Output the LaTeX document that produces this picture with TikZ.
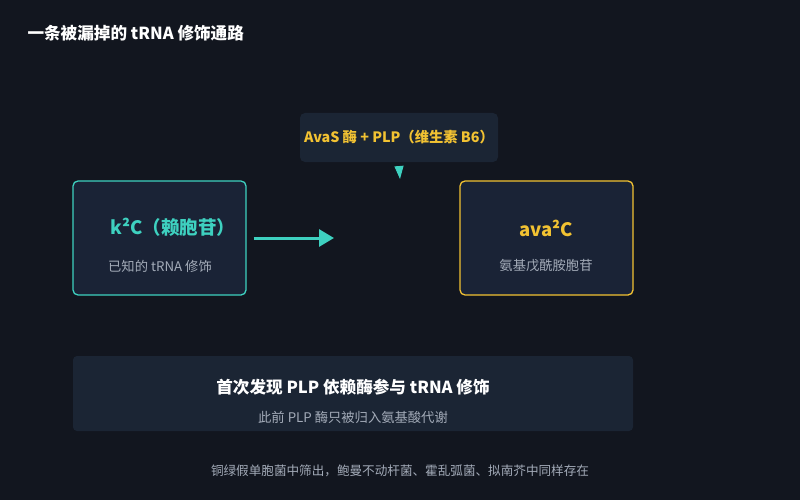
\documentclass[tikz,border=0pt]{standalone}
\usepackage{fontspec}
\setmainfont{Noto Sans CJK SC}
\usetikzlibrary{arrows.meta,positioning}
\definecolor{bgc}{HTML}{12161F}
\definecolor{boxc}{HTML}{1A2336}
\definecolor{tealc}{HTML}{3ED1C0}
\definecolor{goldc}{HTML}{F2C232}
\definecolor{greyc}{HTML}{A3ABB8}
\definecolor{notec}{HTML}{1B2534}
\tikzset{
  card/.style={draw,line width=1.3pt,fill=boxc,rounded corners=5pt,minimum width=173pt,minimum height=114pt},
  head/.style={font=\bfseries\fontsize{18.5}{22}\selectfont},
  sub/.style={text=greyc,font=\fontsize{13.3}{16}\selectfont},
}
\begin{document}
\begin{tikzpicture}[x=1pt,y=-1pt]
\fill[bgc] (0,0) rectangle (800,500);
\useasboundingbox (0,0) rectangle (800,500);

\node[anchor=west,text=white,font=\bfseries\fontsize{16.6}{20}\selectfont] (title) at (24,33) {一条被漏掉的 tRNA 修饰通路};

\node[card,draw=tealc] (k2c) at (159.5,238) {};
\node[head,text=tealc] (k2cname) at (173,227) {k²C（赖胞苷）};
\node[sub] (k2cdesc) at (160,266) {已知的 tRNA 修饰};

\node[card,draw=goldc] (ava) at (546.5,238) {};
\node[head,text=goldc] (avaname) at (546,228) {ava²C};
\node[sub] (avadesc) at (546,266) {氨基戊酰胺胞苷};

\coordinate (arrend) at (334,238);
\draw[tealc,line width=3pt,-{Triangle[length=15pt,width=17pt]}] ([xshift=7pt]k2c.east) -- (arrend);

\node[fill=notec,rounded corners=5pt,minimum width=198pt,minimum height=49pt,text=goldc,
  font=\bfseries\fontsize{14.3}{17}\selectfont] (enz) at (399,137.5) {AvaS 酶 + PLP（维生素 B6）};
\coordinate (tip) at (400,179);
\draw[tealc,line width=1pt,-{Triangle[length=13pt,width=9pt]}] ([yshift=-4pt]enz.south) -- (tip);

\node[fill=notec,rounded corners=4pt,minimum width=560pt,minimum height=75pt] (note) at (353,393.5) {};
\node[text=white,font=\bfseries\fontsize{16.6}{20}\selectfont] (notehead) at (353,387) {首次发现 PLP 依赖酶参与 tRNA 修饰};
\node[sub] (notesub) at (353,417) {此前 PLP 酶只被归入氨基酸代谢};

\node[text=greyc,font=\fontsize{12.6}{15}\selectfont] (foot) at (400,471) {铜绿假单胞菌中筛出，鲍曼不动杆菌、霍乱弧菌、拟南芥中同样存在};
\end{tikzpicture}
\end{document}
